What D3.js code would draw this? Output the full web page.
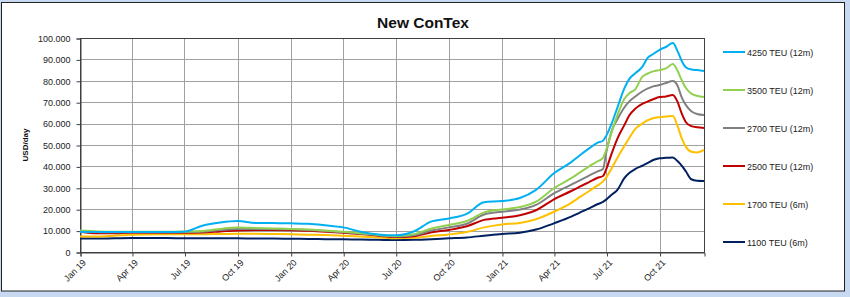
<!DOCTYPE html>
<html>
<head>
<script src="https://d3js.org/d3.v7.min.js"></script>
<style>
  body { margin: 0; background: #c6d9f0; }
  svg { display: block; }
</style>
</head>
<body>
<svg id="chart" width="850" height="297"></svg>
<script>
// sample dates (monthly, then denser in 2021)
const dates = [
  "2019-01-01","2019-02-01","2019-03-01","2019-04-01","2019-05-01","2019-06-01",
  "2019-07-01","2019-08-01","2019-09-01","2019-10-01","2019-11-01","2019-12-01",
  "2020-01-01","2020-02-01","2020-03-01","2020-04-01","2020-05-01","2020-06-01",
  "2020-07-01","2020-08-01","2020-09-01","2020-10-01","2020-11-01","2020-12-01",
  "2021-01-01","2021-02-01","2021-03-01","2021-04-01","2021-05-01","2021-05-15",
  "2021-06-01","2021-06-15","2021-06-25","2021-07-01","2021-07-10","2021-07-20",
  "2021-08-01","2021-08-10","2021-08-20","2021-09-01","2021-09-10","2021-09-20",
  "2021-10-01","2021-10-12","2021-10-24","2021-11-01","2021-11-08","2021-11-16",
  "2021-11-25","2021-12-05","2021-12-17"
];

const teu4250 = [9.5,9.3,9.3,9.3,9.3,9.3, 9.5,12.3,13.8,14.5,13.6,13.5,
  13.4,13.2,12.5,11.5,9.5,8.2, 7.8,9.6,14.3,15.7,17.8,23.3,
  23.8,25.2,29,36.8,42,45, 48.4,51,52,54.5,60,67.5,
  76.5,81,83.5,86.5,90.6,92.5, 94.5,95.8,97.7,94,89.5,86.2, 85.3,85,84.6];
const teu3500 = [10,9.6,9.5,9.5,9.5,9.5, 9.6,9.8,10.8,11.4,11.2,11,
  10.8,10.5,10,9.5,8.8,8, 7.5,8.3,11,12.6,14.5,18.5,
  19.9,21,23.5,29.8,34.5,37, 40,42.3,44,48,56,64,
  71.5,74.3,76,81.8,83.3,84.4, 85,85.8,87.8,84.8,80.5,76.5, 74,73,72.4];
const teu2700 = [9.5,9.3,9.2,9.2,9.2,9.2, 9.3,9.5,10.3,10.8,10.8,10.7,
  10.6,10.3,9.8,9.3,8.6,7.8, 7.2,7.8,10,11.5,13.2,17.5,
  18.8,19.8,22,27.4,31.5,33.4, 35.7,37.6,38.8,47,56.5,62,
  67.5,70.5,72.7,75,76.3,77.4, 78,79,79.9,77.8,72.5,68.5, 65.8,64.5,64];
const teu2500 = [9.5,8.8,8.8,9,9,9, 9,9.1,9.6,10.1,10.3,10.3,
  10.2,9.9,9.5,9,8.4,7.6, 7,7.4,9.2,10.3,12,15,
  16,17.2,19.5,24.6,28.5,30.4, 32.7,34.6,35.5,39,46,53,
  59.3,64,67,69.2,70.3,71.4, 72.4,72.7,73.4,70.3,65,60.5, 58.8,58.3,58];
const teu1700 = [7.3,7.2,7.6,8.1,8.2,8.3, 8.3,8.3,8.4,8.5,8.5,8.4,
  8.3,8.1,7.9,7.6,7.2,6.8, 6.4,6.6,7.5,8.2,9.3,11.5,
  12.9,13.6,15.3,18.8,23,25.5, 28.5,31,33,35,39,44,
  49.5,53.5,57.5,60,61.5,62.5, 63,63.3,63.6,59,53.5,49, 46.8,46.5,47.7];
const teu1100 = [6.3,6.3,6.4,6.5,6.5,6.5, 6.4,6.4,6.4,6.4,6.3,6.3,
  6.2,6.1,6,5.9,5.8,5.7, 5.6,5.7,6,6.4,6.8,7.6,
  8.4,9,10.5,13.4,16.5,18.3, 20.4,22.3,23.4,24.6,26.8,29,
  34.5,37,38.8,40.3,41.5,43, 43.8,44,44.2,42.5,40.5,37.5, 34,33.3,33.2];

const seriesNames = ["4250 TEU (12m)","3500 TEU (12m)","2700 TEU (12m)","2500 TEU (12m)","1700 TEU (6m)","1100 TEU (6m)"];
const seriesValues = [teu4250, teu3500, teu2700, teu2500, teu1700, teu1100];
const colors = ["#00b0f0","#92d050","#808080","#c00000","#ffc000","#002060"];

const yTicks = [0,10000,20000,30000,40000,50000,60000,70000,80000,90000,100000];
const xTicks = ["2019-01-01","2019-04-01","2019-07-01","2019-10-01","2020-01-01","2020-04-01",
  "2020-07-01","2020-10-01","2021-01-01","2021-04-01","2021-07-01","2021-10-01"];
const monthNames = ["Jan","Feb","Mar","Apr","May","Jun","Jul","Aug","Sep","Oct","Nov","Dec"];

const parse = d3.timeParse("%Y-%m-%d");
const svg = d3.select("#chart");

// chart frame
svg.append("rect").attr("x", 1.5).attr("y", 2.5).attr("width", 843).attr("height", 288.5)
  .attr("fill", "#fff").attr("stroke", "#222").attr("stroke-width", 1);

const margin = { left: 80, top: 38, right: 704, bottom: 252 };

const x = d3.scaleTime()
  .domain([parse("2019-01-01"), parse("2021-12-17")])
  .range([margin.left, margin.right]);
const y = d3.scaleLinear().domain([0, 100000]).range([margin.bottom, margin.top]);

// gridlines
svg.append("g").selectAll("line").data(yTicks.slice(1)).join("line")
  .attr("x1", margin.left).attr("x2", margin.right)
  .attr("y1", d => Math.round(y(d)) + 0.5).attr("y2", d => Math.round(y(d)) + 0.5)
  .attr("stroke", "#a0a0a0");
svg.append("g").selectAll("line").data(xTicks.slice(1)).join("line")
  .attr("x1", d => Math.round(x(parse(d))) + 0.5).attr("x2", d => Math.round(x(parse(d))) + 0.5)
  .attr("y1", margin.top).attr("y2", margin.bottom)
  .attr("stroke", "#a0a0a0");

// plot border
svg.append("rect").attr("x", margin.left + 0.5).attr("y", margin.top + 0.5)
  .attr("width", margin.right - margin.left).attr("height", margin.bottom - margin.top)
  .attr("fill", "none").attr("stroke", "#404040");

// axes
const fmt = d => d === 0 ? "0" : d3.format(",.3f")(d / 1000).replace(",", "");
const yAxis = svg.append("g")
  .attr("transform", `translate(${margin.left + 0.5},0.5)`)
  .call(d3.axisLeft(y).tickValues(yTicks).tickSize(4).tickPadding(6)
    .tickFormat(d => d === 0 ? "0" : (d / 1000).toFixed(3)));
const xAxis = svg.append("g")
  .attr("transform", `translate(0.5,${margin.bottom + 0.5})`)
  .call(d3.axisBottom(x).tickValues(xTicks.map(parse)).tickSize(4)
    .tickFormat(d => monthNames[d.getMonth()] + " " + String(d.getFullYear()).slice(2)));
[yAxis, xAxis].forEach(a => {
  a.select(".domain").attr("stroke", "#404040");
  a.selectAll(".tick line").attr("stroke", "#404040");
  a.selectAll("text").attr("fill", "#222").style("font-family", "Liberation Sans, Arial, sans-serif")
    .style("font-size", "9px");
});
xAxis.selectAll("text")
  .attr("transform", "rotate(-45)")
  .attr("dx", "-0.4em").attr("dy", "0.5em")
  .style("text-anchor", "end");

// lines
const line = d3.line()
  .x((d, i) => x(parse(dates[i])))
  .y(d => y(d * 1000))
  .curve(d3.curveMonotoneX);
const order = [5, 4, 3, 2, 1, 0];
svg.append("g").selectAll("path").data(order).join("path")
  .attr("d", k => line(seriesValues[k]))
  .attr("fill", "none")
  .attr("stroke", k => colors[k])
  .attr("stroke-width", 2);

// title
svg.append("text").attr("x", 423).attr("y", 28).attr("text-anchor", "middle")
  .style("font-family", "Liberation Sans, Arial, sans-serif").style("font-weight", "bold")
  .style("font-size", "15.5px").attr("fill", "#111").text("New ConTex");

// y axis title
svg.append("text").attr("transform", "translate(28,145) rotate(-90)")
  .attr("text-anchor", "middle")
  .style("font-family", "Liberation Sans, Arial, sans-serif").style("font-weight", "bold")
  .style("font-size", "8px").attr("fill", "#111").text("USD/day");

// legend
const legend = svg.append("g").selectAll("g").data(seriesNames).join("g")
  .attr("transform", (d, i) => `translate(723,${52 + i * 38})`);
legend.append("line").attr("x1", 0).attr("x2", 22)
  .attr("stroke", (d, i) => colors[i]).attr("stroke-width", 2);
legend.append("text").attr("x", 24).attr("y", 3.5)
  .style("font-family", "Liberation Sans, Arial, sans-serif").style("font-size", "9px")
  .attr("fill", "#222").text(d => d);
</script>
</body>
</html>
